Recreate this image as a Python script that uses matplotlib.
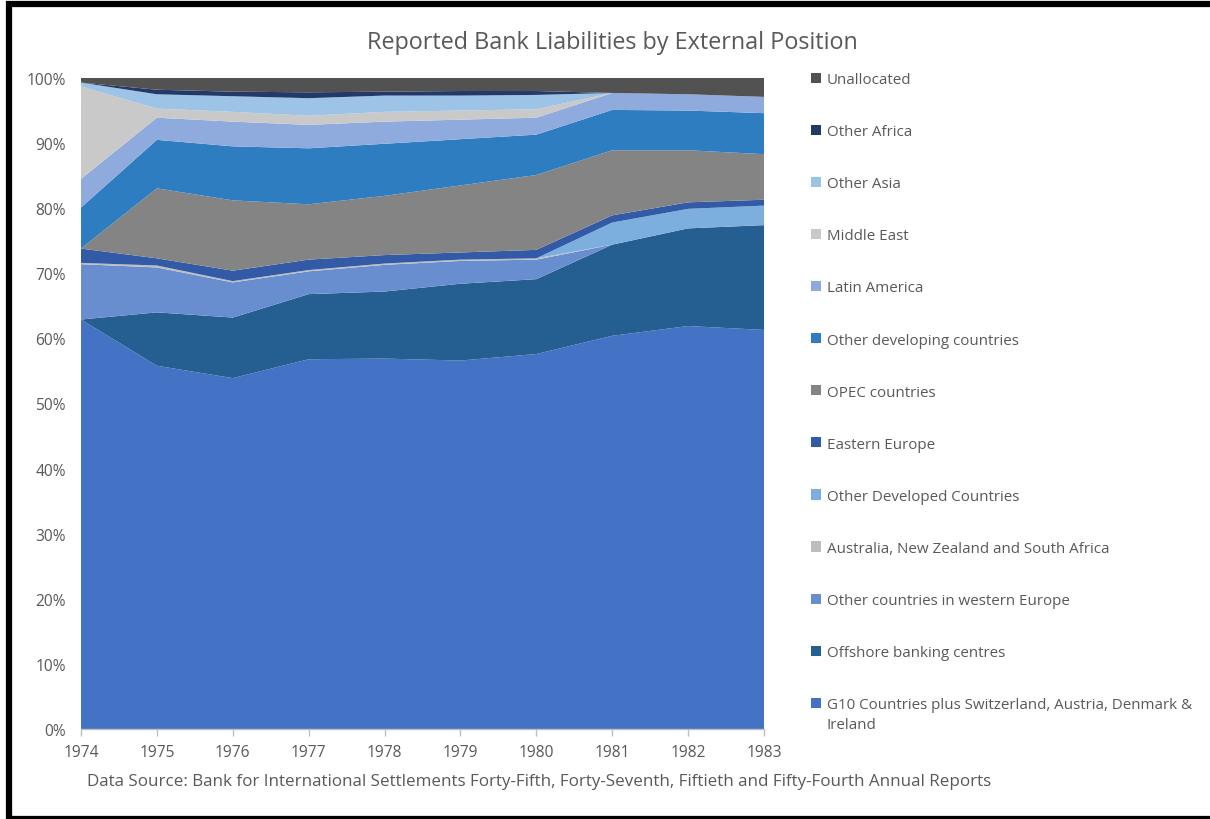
import numpy as np
import matplotlib
matplotlib.use('Agg')
import matplotlib.pyplot as plt
from matplotlib.patches import Patch, Rectangle
from matplotlib.ticker import PercentFormatter

plt.rcParams['font.family'] = ['Open Sans', 'DejaVu Sans']

years = [1974, 1975, 1976, 1977, 1978, 1979, 1980, 1981, 1982, 1983]

# shares of reported liabilities, percent of total
g10 = [62.9, 55.8, 53.9, 56.8, 56.9, 56.6, 57.6, 60.4, 61.9, 61.3]
offshore = [0.0, 8.2, 9.3, 10.0, 10.3, 11.8, 11.5, 14.0, 15.0, 16.1]
other_west_europe = [8.5, 6.9, 5.4, 3.5, 4.1, 3.5, 3.0, 0.0, 0.0, 0.0]
aus_nz_sa = [0.2, 0.3, 0.2, 0.2, 0.2, 0.2, 0.2, 0.0, 0.0, 0.0]
other_developed = [0.0, 0.0, 0.0, 0.0, 0.0, 0.0, 0.0, 3.4, 3.0, 3.0]
eastern_europe = [2.2, 1.1, 1.6, 1.6, 1.3, 1.1, 1.3, 1.1, 1.0, 0.9]
opec = [0.0, 10.75, 10.8, 8.5, 9.1, 10.3, 11.5, 10.0, 8.0, 7.0]
other_developing = [6.3, 7.45, 8.3, 8.6, 8.0, 7.1, 6.2, 6.2, 6.1, 6.3]
latin_america = [4.4, 3.4, 3.8, 3.6, 3.4, 3.0, 2.6, 2.6, 2.5, 2.5]
middle_east = [14.2, 1.4, 1.5, 1.4, 1.5, 1.4, 1.3, 0.0, 0.0, 0.0]
other_asia = [0.6, 2.2, 2.4, 2.7, 2.5, 2.3, 2.2, 0.0, 0.0, 0.0]
other_africa = [0.0, 0.7, 0.7, 0.9, 0.6, 0.7, 0.6, 0.0, 0.0, 0.0]
unallocated = [0.7, 1.8, 2.1, 2.2, 2.1, 2.0, 2.0, 2.3, 2.5, 2.9]

series = [g10, offshore, other_west_europe, aus_nz_sa, other_developed,
          eastern_europe, opec, other_developing, latin_america,
          middle_east, other_asia, other_africa, unallocated]
labels = ['G10 Countries plus Switzerland, Austria, Denmark &',
          'Offshore banking centres',
          'Other countries in western Europe',
          'Australia, New Zealand and South Africa',
          'Other Developed Countries',
          'Eastern Europe',
          'OPEC countries',
          'Other developing countries',
          'Latin America',
          'Middle East',
          'Other Asia',
          'Other Africa',
          'Unallocated']
colors = ['#4472C4', '#255E91', '#698ED0', '#BDBDBD', '#7CAFDD', '#335AA6',
          '#848484', '#2F7DC1', '#8FAADC', '#C9C9C9', '#9DC3E6', '#22396A',
          '#525252']

TEXT = '#595959'
W, H = 1210, 820
LEG_FS = 10.9

vals = np.array(series, dtype=float)
shares = vals / vals.sum(axis=0)

fig = plt.figure(figsize=(W / 100, H / 100), dpi=100)
ax = fig.add_axes([81 / W, 90 / H, 683 / W, 651 / H])

ax.stackplot(years, shares, colors=colors, labels=labels, linewidth=0)
ax.set_xlim(years[0], years[-1])
ax.set_ylim(0, 1)
ax.set_xticks(years)
ax.set_yticks(np.arange(0, 1.01, 0.1))
ax.yaxis.set_major_formatter(PercentFormatter(1.0, decimals=0))

for s in ['top', 'right', 'left']:
    ax.spines[s].set_visible(False)
ax.spines['bottom'].set_color('#BFBFBF')
ax.spines['bottom'].set_linewidth(1)
ax.tick_params(axis='x', colors='#BFBFBF', labelcolor=TEXT, labelsize=11.2,
               length=5, width=1, pad=6)
ax.tick_params(axis='y', labelcolor=TEXT, labelsize=11.2, length=0, pad=11)

fig.text(612 / W, 1 - 43 / H, 'Reported Bank Liabilities by External Position',
         ha='center', va='center', fontsize=16.8, color=TEXT)
fig.text(87 / W, 1 - 782 / H,
         'Data Source: Bank for International Settlements Forty-Fifth, Forty-Seventh, '
         'Fiftieth and Fifty-Fourth Annual Reports',
         ha='left', va='center', fontsize=12.25, color=TEXT)

# legend, top entry first
handles = [Patch(facecolor=c, edgecolor='none') for c in colors]
leg = fig.legend(handles[::-1], labels[::-1], loc='upper left',
                 bbox_to_anchor=(805 / W, 1 - 67 / H), frameon=False,
                 fontsize=LEG_FS, labelcolor=TEXT, handlelength=0.65,
                 handleheight=0.65, handletextpad=0.4, labelspacing=2.45,
                 borderaxespad=0)

# second line of the G10 entry goes under its first line
fig.canvas.draw()
bb = leg.get_texts()[-1].get_window_extent()
fig.text(bb.x0 / W, (bb.y0 - 5) / H, 'Ireland', ha='left', va='top',
         fontsize=LEG_FS, color=TEXT)

# black frame around the chart
fig.patches.append(Rectangle((9 / W, 0), 1.1, 1 - 5 / H,
                             transform=fig.transFigure, fill=False,
                             edgecolor='black', linewidth=4.5, zorder=10))

fig.savefig('out.png', dpi=100)
